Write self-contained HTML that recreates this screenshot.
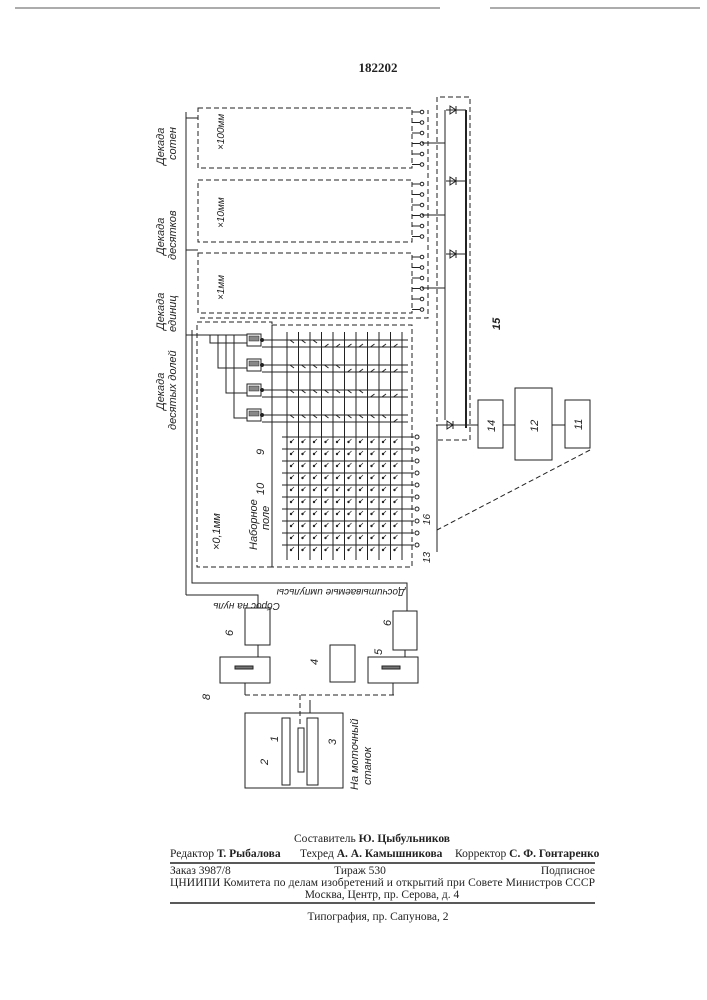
<!DOCTYPE html>
<html><head><meta charset="utf-8"><style>
html,body{margin:0;padding:0;background:#fff;width:707px;height:1000px;overflow:hidden}
svg{position:absolute;left:0;top:0}
text{font-family:"Liberation Serif","DejaVu Serif",serif;fill:#222}
.it{font-family:"Liberation Sans",sans-serif;font-style:italic}
</style></head><body>
<svg id="s" width="707" height="1000" viewBox="0 0 707 1000" stroke="#222" fill="none" stroke-width="1">
<line x1="15" y1="8" x2="440" y2="8" stroke-width="0.8"/>
<line x1="490" y1="8" x2="700" y2="8" stroke-width="0.8"/>
<text x="378" y="72" font-size="13" font-weight="bold" text-anchor="middle" stroke="none">182202</text>

<g stroke-dasharray="5,3">
<rect x="198" y="108" width="214" height="60"/>
<rect x="198" y="180" width="214" height="62"/>
<rect x="198" y="253" width="214" height="60"/>
<rect x="272" y="325" width="140" height="242"/>
<rect x="197" y="322" width="75" height="245"/>
<polyline points="200,318 428,318 428,110"/>
<polyline points="437,430 437,97 470,97 470,440 437,440"/>
<line x1="590" y1="450" x2="437" y2="530"/>
<line x1="245" y1="695" x2="395" y2="695"/>
<line x1="300" y1="695" x2="300" y2="725"/>
</g>
<line x1="466" y1="110" x2="466" y2="428" stroke-width="2"/>
<g>
<line x1="446" y1="110" x2="466" y2="110"/><path d="M450 106 L456 110 L450 114 Z M456 106 V114"/>
<line x1="446" y1="181" x2="466" y2="181"/><path d="M450 177 L456 181 L450 185 Z M456 177 V185"/>
<line x1="446" y1="254" x2="466" y2="254"/><path d="M450 250 L456 254 L450 258 Z M456 250 V258"/>
<line x1="436" y1="425" x2="478" y2="425"/><path d="M447 421 L453 425 L447 429 Z M453 421 V429"/>
<line x1="445" y1="110" x2="445" y2="420"/>
<line x1="437" y1="425" x2="437" y2="552"/>
</g>
<polyline points="186,112 186,595"/>
<polyline points="192,330 192,583 407,583 407,611"/>
<polyline points="186,595 258,595 258,608"/>
<line x1="186" y1="118" x2="198" y2="118"/>
<line x1="186" y1="250" x2="198" y2="250"/>
<line x1="186" y1="335" x2="260" y2="335"/>

<rect x="478" y="400" width="25" height="48"/>
<rect x="515" y="388" width="37" height="72"/>
<rect x="565" y="400" width="25" height="48"/>
<line x1="503" y1="425" x2="515" y2="425"/><line x1="552" y1="425" x2="565" y2="425"/>
<rect x="245" y="608" width="25" height="37"/>
<rect x="220" y="657" width="50" height="26"/>
<rect x="330" y="645" width="25" height="37"/>
<rect x="393" y="611" width="24" height="39"/>
<rect x="368" y="657" width="50" height="26"/>
<line x1="258" y1="645" x2="258" y2="657"/><line x1="405" y1="650" x2="405" y2="657"/>
<rect x="235" y="666" width="18" height="3" fill="#777"/><rect x="382" y="666" width="18" height="3" fill="#777"/>
<line x1="245" y1="683" x2="245" y2="695"/><line x1="393" y1="683" x2="393" y2="695"/>
<rect x="245" y="713" width="98" height="75"/>
<rect x="282" y="718" width="8" height="67"/>
<rect x="307" y="718" width="11" height="67"/>
<rect x="298" y="728" width="6" height="44"/>
<line x1="310" y1="700" x2="310" y2="713"/>
<g id="grid"></g>

<g stroke="none">
<text class="it" font-size="11" transform="translate(164,165) rotate(-90)">Декада</text>
<text class="it" font-size="11" transform="translate(176,160) rotate(-90)">сотен</text>
<text class="it" font-size="11" transform="translate(164,255) rotate(-90)">Декада</text>
<text class="it" font-size="11" transform="translate(176,260) rotate(-90)">десятков</text>
<text class="it" font-size="11" transform="translate(164,330) rotate(-90)">Декада</text>
<text class="it" font-size="11" transform="translate(176,332) rotate(-90)">единиц</text>
<text class="it" font-size="11" transform="translate(164,410) rotate(-90)">Декада</text>
<text class="it" font-size="11" transform="translate(176,430) rotate(-90)">десятых долей</text>
<text class="it" font-size="10" transform="translate(224,150) rotate(-90)">×100мм</text>
<text class="it" font-size="10" transform="translate(224,228) rotate(-90)">×10мм</text>
<text class="it" font-size="10" transform="translate(224,300) rotate(-90)">×1мм</text>
<text class="it" font-size="11" transform="translate(220,550) rotate(-90)">×0,1мм</text>
<text class="it" font-size="11" transform="translate(257,550) rotate(-90)">Наборное</text>
<text class="it" font-size="11" transform="translate(269,530) rotate(-90)">поле</text>
<text class="it" font-size="11" transform="translate(264,455) rotate(-90)">9</text>
<text class="it" font-size="11" transform="translate(264,495) rotate(-90)">10</text>
<text class="it" font-size="11" transform="translate(500,330) rotate(-90)" font-weight="bold">15</text>
<text class="it" font-size="11" transform="translate(495,432) rotate(-90)">14</text>
<text class="it" font-size="11" transform="translate(538,432) rotate(-90)">12</text>
<text class="it" font-size="11" transform="translate(582,430) rotate(-90)">11</text>
<text class="it" font-size="10" transform="translate(430,563) rotate(-90)">13</text>
<text class="it" font-size="10" transform="translate(430,525) rotate(-90)">16</text>
<text class="it" font-size="10" transform="translate(280,603) rotate(180)">Сброс на нуль</text>
<text class="it" font-size="10" transform="translate(405,589) rotate(180)">Досчитываемые импульсы</text>
<text class="it" font-size="11" transform="translate(233,636) rotate(-90)">6</text>
<text class="it" font-size="11" transform="translate(391,626) rotate(-90)">6</text>
<text class="it" font-size="11" transform="translate(318,665) rotate(-90)">4</text>
<text class="it" font-size="11" transform="translate(382,655) rotate(-90)">5</text>
<text class="it" font-size="11" transform="translate(210,700) rotate(-90)">8</text>
<text class="it" font-size="11" transform="translate(268,765) rotate(-90)">2</text>
<text class="it" font-size="11" transform="translate(278,742) rotate(-90)">1</text>
<text class="it" font-size="11" transform="translate(336,745) rotate(-90)">3</text>
<text class="it" font-size="11" transform="translate(358,790) rotate(-90)">На моточный</text>
<text class="it" font-size="11" transform="translate(371,785) rotate(-90)">станок</text>

<text x="372" y="842" font-size="11.5" text-anchor="middle">Составитель <tspan font-weight="bold">Ю. Цыбульников</tspan></text>
<text x="170" y="857" font-size="11.5">Редактор <tspan font-weight="bold">Т. Рыбалова</tspan></text>
<text x="300" y="857" font-size="11.5">Техред <tspan font-weight="bold">А. А. Камышникова</tspan></text>
<text x="455" y="857" font-size="11.5">Корректор <tspan font-weight="bold">С. Ф. Гонтаренко</tspan></text>
<text x="170" y="874" font-size="11.5">Заказ 3987/8</text>
<text x="360" y="874" font-size="11.5" text-anchor="middle">Тираж 530</text>
<text x="595" y="874" font-size="11.5" text-anchor="end">Подписное</text>
<text x="170" y="886" font-size="11.5" textLength="425">ЦНИИПИ Комитета по делам изобретений и открытий при Совете Министров СССР</text>
<text x="382" y="898" font-size="11.5" text-anchor="middle">Москва, Центр, пр. Серова, д. 4</text>
<text x="378" y="920" font-size="11.5" text-anchor="middle">Типография, пр. Сапунова, 2</text>
</g>
<line x1="170" y1="863" x2="595" y2="863" stroke-width="1.5"/>
<line x1="170" y1="903" x2="595" y2="903" stroke-width="1.5"/>
</svg>
<script>
var g=document.getElementById('grid'),ns='http://www.w3.org/2000/svg';
function el(t,a){var e=document.createElementNS(ns,t);for(var k in a)e.setAttribute(k,a[k]);g.appendChild(e);return e;}
for(var i=0;i<11;i++){var x=287+i*11.5;el('line',{x1:x,y1:332,x2:x,y2:560});}
for(var r=0;r<4;r++){var y=340+r*25;
 el('line',{x1:262,y1:y,x2:408,y2:y});el('line',{x1:262,y1:y+7,x2:408,y2:y+7});
 el('rect',{x:247,y:y-6,width:14,height:12,fill:'#fff'});
 el('rect',{x:249,y:y-4,width:10,height:5,fill:'#888','stroke-width':0.5});
 el('polyline',{points:(210+r*8)+','+(335)+' '+(210+r*8)+','+(y+3)+' 247,'+(y+3)});
 el('circle',{cx:262,cy:y,r:1.5,fill:'#222'});
 for(var i=0;i<10;i++){el('line',{x1:290+i*11.5,y1:y+(i<r*2+3?0:7),x2:294+i*11.5,y2:y+(i<r*2+3?3:4)});}
}
for(var r=0;r<10;r++){var y=437+r*12;
 el('line',{x1:282,y1:y,x2:414,y2:y});
 el('circle',{cx:417,cy:y,r:2,fill:'#fff'});
 for(var i=0;i<10;i++){el('circle',{cx:291+i*11.5,cy:y+5,r:1.2,fill:'#222','stroke-width':0});
  el('line',{x1:291+i*11.5,y1:y+5,x2:294+i*11.5,y2:y+2,'stroke-width':0.7});}
}
[108,180,253].forEach(function(t){for(var k=0;k<6;k++){var y=t+4+k*10.5;
 el('circle',{cx:422,cy:y,r:1.8,fill:'#fff'});el('line',{x1:412,y1:y,x2:420,y2:y});}
 el('line',{x1:422,y1:t+35,x2:445,y2:t+35});});
</script>
</body></html>
